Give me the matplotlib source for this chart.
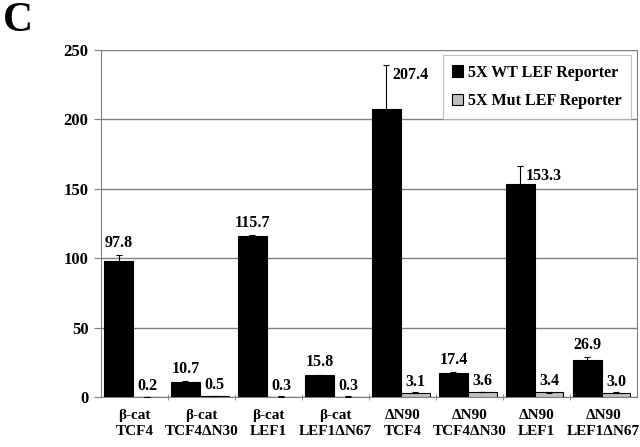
import numpy as np
import matplotlib.pyplot as plt

plt.rcParams['font.family'] = ['Liberation Serif', 'DejaVu Serif']
plt.rcParams['font.weight'] = 'bold'

# ----- data -----
cat_top = ["β-cat", "β-cat", "β-cat", "β-cat", "ΔN90", "ΔN90", "ΔN90", "ΔN90"]
cat_bottom = ["TCF4", "TCF4ΔN30", "LEF1", "LEF1ΔN67", "TCF4", "TCF4ΔN30", "LEF1", "LEF1ΔN67"]
wt = [97.8, 10.7, 115.7, 15.8, 207.4, 17.4, 153.3, 26.9]
wt_err = [4.5, 0.6, 1.0, 0.3, 32.0, 0.5, 13.0, 2.0]
mut = [0.2, 0.5, 0.3, 0.3, 3.1, 3.6, 3.4, 3.0]
mut_err = [0.1, 0.1, 0.1, 0.1, 0.3, 0.3, 0.3, 0.3]

x = np.arange(len(wt))
w = 0.43

fig = plt.figure(figsize=(6.4, 4.47), dpi=100)
ax = fig.add_axes([0.158, 0.112, 0.837, 0.776])

ax.set_ylim(0, 250)
ax.set_xlim(-0.5, len(wt) - 0.5)
ax.set_yticks(np.arange(0, 251, 50))
ax.yaxis.grid(True, color='#808080', linewidth=1)
ax.set_axisbelow(True)

ax.bar(x - 0.24, wt, w, color='black', edgecolor='black', linewidth=0.8,
       yerr=wt_err, error_kw=dict(ecolor='black', elinewidth=0.8, capsize=2, capthick=0.8),
       label='5X WT LEF Reporter', zorder=3)
ax.bar(x + 0.19, mut, w, color='#c0c0c0', edgecolor='black', linewidth=0.8,
       yerr=mut_err, error_kw=dict(ecolor='black', elinewidth=0.8, capsize=2, capthick=0.8),
       label='5X Mut LEF Reporter', zorder=3)

# value labels
for i in range(len(wt)):
    dx, dy = 0, 6
    if wt[i] > 150:
        dx, dy = 17, -10
    ax.annotate(f"{wt[i]:.1f}", (x[i] - 0.24, wt[i] + wt_err[i]), xytext=(dx, dy),
                textcoords='offset points', ha='center', va='baseline',
                fontsize=11.5, fontweight='bold')
    ax.annotate(f"{mut[i]:.1f}", (x[i] + 0.19, mut[i]), xytext=(0, 5),
                textcoords='offset points', ha='center', va='baseline',
                fontsize=11.5, fontweight='bold')

# axes styling
ax.spines['top'].set_visible(False)
for side in ['left', 'right', 'bottom']:
    ax.spines[side].set_color('#808080')

ax.tick_params(axis='y', length=5, color='#808080', labelsize=12, pad=4)
ax.set_xticks(x)
ax.set_xticklabels([f"{a}\n{b}" for a, b in zip(cat_top, cat_bottom)],
                   fontsize=11, fontweight='bold', linespacing=1.25)
ax.tick_params(axis='x', length=0, pad=9)
ax.set_xticks(np.arange(0.5, len(wt) - 0.5, 1), minor=True)
ax.tick_params(axis='x', which='minor', length=4, direction='inout', color='#808080')

leg = ax.legend(loc='upper right', bbox_to_anchor=(0.99, 0.986), borderaxespad=0,
                frameon=True, fancybox=False, edgecolor='#b0b0b0',
                handlelength=0.7, handleheight=0.7, handletextpad=0.3,
                labelspacing=0.8, borderpad=0.6, prop={'weight': 'bold', 'size': 11.5})
leg.get_frame().set_linewidth(0.8)

fig.text(0.005, 0.995, "C", fontsize=30, fontweight='bold', va='top', ha='left')

fig.savefig("out.png", dpi=100)
